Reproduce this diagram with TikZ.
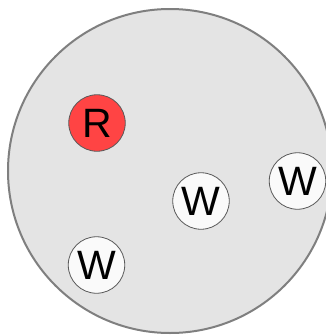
\documentclass[tikz,border=0pt]{standalone}
\usepackage{fontspec}
\setmainfont{Liberation Sans}
\definecolor{ringfill}{HTML}{E4E4E4}
\definecolor{ringline}{HTML}{7F7F7F}
\definecolor{redfill}{HTML}{FF4444}
\definecolor{whitefill}{HTML}{FAFAFA}
\begin{document}
\begin{tikzpicture}[x=1pt,y=-1pt,
  token/.style={circle,draw=black!65,line width=0.8pt,minimum size=56.5pt,inner sep=0pt,font=\fontsize{41}{41}\selectfont},
  rtoken/.style={token,fill=redfill},
  wtoken/.style={token,fill=whitefill}]
\useasboundingbox (0,0) rectangle (326,335);
\clip (0,0) rectangle (326,335);
\draw[ringline,fill=ringfill,line width=2pt] (170,171) circle (162);

\node[rtoken] (r1) at (97,123) {R};
\node[wtoken] (w1) at (201,201) {W};
\node[wtoken] (w2) at (297.5,181) {W};
\node[wtoken] (w3) at (96.5,265) {W};
\end{tikzpicture}
\end{document}
